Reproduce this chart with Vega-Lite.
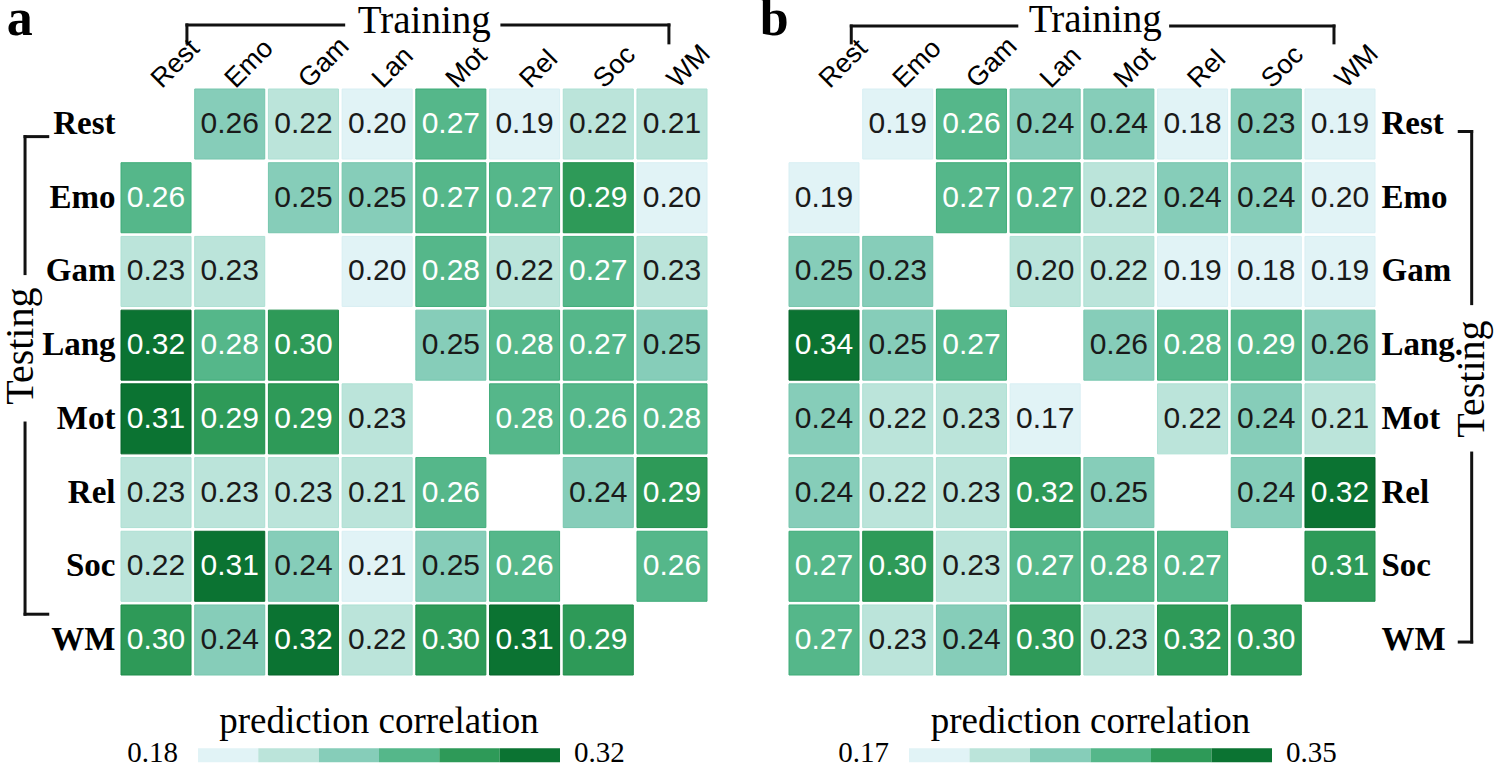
{
  "$schema": "https://vega.github.io/schema/vega-lite/v6.json",
  "background": "white",
  "padding": {"left": 1, "top": -8, "right": 5, "bottom": 0},
  "config": {
    "view": {"stroke": null},
    "axis": {"domain": false, "ticks": false, "grid": false, "title": null}
  },
  "datasets": {
    "a": [
      {"test": "Rest", "train": "Emo", "r": 0.26, "lvl": 3},
      {"test": "Rest", "train": "Gam", "r": 0.22, "lvl": 2},
      {"test": "Rest", "train": "Lan", "r": 0.20, "lvl": 1},
      {"test": "Rest", "train": "Mot", "r": 0.27, "lvl": 4},
      {"test": "Rest", "train": "Rel", "r": 0.19, "lvl": 1},
      {"test": "Rest", "train": "Soc", "r": 0.22, "lvl": 2},
      {"test": "Rest", "train": "WM", "r": 0.21, "lvl": 2},
      {"test": "Emo", "train": "Rest", "r": 0.26, "lvl": 4},
      {"test": "Emo", "train": "Gam", "r": 0.25, "lvl": 3},
      {"test": "Emo", "train": "Lan", "r": 0.25, "lvl": 3},
      {"test": "Emo", "train": "Mot", "r": 0.27, "lvl": 4},
      {"test": "Emo", "train": "Rel", "r": 0.27, "lvl": 4},
      {"test": "Emo", "train": "Soc", "r": 0.29, "lvl": 5},
      {"test": "Emo", "train": "WM", "r": 0.20, "lvl": 1},
      {"test": "Gam", "train": "Rest", "r": 0.23, "lvl": 2},
      {"test": "Gam", "train": "Emo", "r": 0.23, "lvl": 2},
      {"test": "Gam", "train": "Lan", "r": 0.20, "lvl": 1},
      {"test": "Gam", "train": "Mot", "r": 0.28, "lvl": 4},
      {"test": "Gam", "train": "Rel", "r": 0.22, "lvl": 2},
      {"test": "Gam", "train": "Soc", "r": 0.27, "lvl": 4},
      {"test": "Gam", "train": "WM", "r": 0.23, "lvl": 2},
      {"test": "Lang", "train": "Rest", "r": 0.32, "lvl": 6},
      {"test": "Lang", "train": "Emo", "r": 0.28, "lvl": 4},
      {"test": "Lang", "train": "Gam", "r": 0.30, "lvl": 5},
      {"test": "Lang", "train": "Mot", "r": 0.25, "lvl": 3},
      {"test": "Lang", "train": "Rel", "r": 0.28, "lvl": 4},
      {"test": "Lang", "train": "Soc", "r": 0.27, "lvl": 4},
      {"test": "Lang", "train": "WM", "r": 0.25, "lvl": 3},
      {"test": "Mot", "train": "Rest", "r": 0.31, "lvl": 6},
      {"test": "Mot", "train": "Emo", "r": 0.29, "lvl": 5},
      {"test": "Mot", "train": "Gam", "r": 0.29, "lvl": 5},
      {"test": "Mot", "train": "Lan", "r": 0.23, "lvl": 2},
      {"test": "Mot", "train": "Rel", "r": 0.28, "lvl": 4},
      {"test": "Mot", "train": "Soc", "r": 0.26, "lvl": 4},
      {"test": "Mot", "train": "WM", "r": 0.28, "lvl": 4},
      {"test": "Rel", "train": "Rest", "r": 0.23, "lvl": 2},
      {"test": "Rel", "train": "Emo", "r": 0.23, "lvl": 2},
      {"test": "Rel", "train": "Gam", "r": 0.23, "lvl": 2},
      {"test": "Rel", "train": "Lan", "r": 0.21, "lvl": 2},
      {"test": "Rel", "train": "Mot", "r": 0.26, "lvl": 4},
      {"test": "Rel", "train": "Soc", "r": 0.24, "lvl": 3},
      {"test": "Rel", "train": "WM", "r": 0.29, "lvl": 5},
      {"test": "Soc", "train": "Rest", "r": 0.22, "lvl": 2},
      {"test": "Soc", "train": "Emo", "r": 0.31, "lvl": 6},
      {"test": "Soc", "train": "Gam", "r": 0.24, "lvl": 3},
      {"test": "Soc", "train": "Lan", "r": 0.21, "lvl": 1},
      {"test": "Soc", "train": "Mot", "r": 0.25, "lvl": 3},
      {"test": "Soc", "train": "Rel", "r": 0.26, "lvl": 4},
      {"test": "Soc", "train": "WM", "r": 0.26, "lvl": 4},
      {"test": "WM", "train": "Rest", "r": 0.30, "lvl": 5},
      {"test": "WM", "train": "Emo", "r": 0.24, "lvl": 3},
      {"test": "WM", "train": "Gam", "r": 0.32, "lvl": 6},
      {"test": "WM", "train": "Lan", "r": 0.22, "lvl": 2},
      {"test": "WM", "train": "Mot", "r": 0.30, "lvl": 5},
      {"test": "WM", "train": "Rel", "r": 0.31, "lvl": 6},
      {"test": "WM", "train": "Soc", "r": 0.29, "lvl": 5}
    ],
    "b": [
      {"test": "Rest", "train": "Emo", "r": 0.19, "lvl": 1},
      {"test": "Rest", "train": "Gam", "r": 0.26, "lvl": 4},
      {"test": "Rest", "train": "Lan", "r": 0.24, "lvl": 3},
      {"test": "Rest", "train": "Mot", "r": 0.24, "lvl": 3},
      {"test": "Rest", "train": "Rel", "r": 0.18, "lvl": 1},
      {"test": "Rest", "train": "Soc", "r": 0.23, "lvl": 3},
      {"test": "Rest", "train": "WM", "r": 0.19, "lvl": 1},
      {"test": "Emo", "train": "Rest", "r": 0.19, "lvl": 1},
      {"test": "Emo", "train": "Gam", "r": 0.27, "lvl": 4},
      {"test": "Emo", "train": "Lan", "r": 0.27, "lvl": 4},
      {"test": "Emo", "train": "Mot", "r": 0.22, "lvl": 2},
      {"test": "Emo", "train": "Rel", "r": 0.24, "lvl": 3},
      {"test": "Emo", "train": "Soc", "r": 0.24, "lvl": 3},
      {"test": "Emo", "train": "WM", "r": 0.20, "lvl": 1},
      {"test": "Gam", "train": "Rest", "r": 0.25, "lvl": 3},
      {"test": "Gam", "train": "Emo", "r": 0.23, "lvl": 3},
      {"test": "Gam", "train": "Lan", "r": 0.20, "lvl": 2},
      {"test": "Gam", "train": "Mot", "r": 0.22, "lvl": 2},
      {"test": "Gam", "train": "Rel", "r": 0.19, "lvl": 1},
      {"test": "Gam", "train": "Soc", "r": 0.18, "lvl": 1},
      {"test": "Gam", "train": "WM", "r": 0.19, "lvl": 1},
      {"test": "Lang.", "train": "Rest", "r": 0.34, "lvl": 6},
      {"test": "Lang.", "train": "Emo", "r": 0.25, "lvl": 3},
      {"test": "Lang.", "train": "Gam", "r": 0.27, "lvl": 4},
      {"test": "Lang.", "train": "Mot", "r": 0.26, "lvl": 3},
      {"test": "Lang.", "train": "Rel", "r": 0.28, "lvl": 4},
      {"test": "Lang.", "train": "Soc", "r": 0.29, "lvl": 4},
      {"test": "Lang.", "train": "WM", "r": 0.26, "lvl": 3},
      {"test": "Mot", "train": "Rest", "r": 0.24, "lvl": 3},
      {"test": "Mot", "train": "Emo", "r": 0.22, "lvl": 2},
      {"test": "Mot", "train": "Gam", "r": 0.23, "lvl": 2},
      {"test": "Mot", "train": "Lan", "r": 0.17, "lvl": 1},
      {"test": "Mot", "train": "Rel", "r": 0.22, "lvl": 2},
      {"test": "Mot", "train": "Soc", "r": 0.24, "lvl": 3},
      {"test": "Mot", "train": "WM", "r": 0.21, "lvl": 2},
      {"test": "Rel", "train": "Rest", "r": 0.24, "lvl": 3},
      {"test": "Rel", "train": "Emo", "r": 0.22, "lvl": 2},
      {"test": "Rel", "train": "Gam", "r": 0.23, "lvl": 2},
      {"test": "Rel", "train": "Lan", "r": 0.32, "lvl": 5},
      {"test": "Rel", "train": "Mot", "r": 0.25, "lvl": 3},
      {"test": "Rel", "train": "Soc", "r": 0.24, "lvl": 3},
      {"test": "Rel", "train": "WM", "r": 0.32, "lvl": 6},
      {"test": "Soc", "train": "Rest", "r": 0.27, "lvl": 4},
      {"test": "Soc", "train": "Emo", "r": 0.30, "lvl": 5},
      {"test": "Soc", "train": "Gam", "r": 0.23, "lvl": 2},
      {"test": "Soc", "train": "Lan", "r": 0.27, "lvl": 4},
      {"test": "Soc", "train": "Mot", "r": 0.28, "lvl": 4},
      {"test": "Soc", "train": "Rel", "r": 0.27, "lvl": 4},
      {"test": "Soc", "train": "WM", "r": 0.31, "lvl": 5},
      {"test": "WM", "train": "Rest", "r": 0.27, "lvl": 4},
      {"test": "WM", "train": "Emo", "r": 0.23, "lvl": 2},
      {"test": "WM", "train": "Gam", "r": 0.24, "lvl": 3},
      {"test": "WM", "train": "Lan", "r": 0.30, "lvl": 5},
      {"test": "WM", "train": "Mot", "r": 0.23, "lvl": 2},
      {"test": "WM", "train": "Rel", "r": 0.32, "lvl": 5},
      {"test": "WM", "train": "Soc", "r": 0.30, "lvl": 5}
    ],
    "legA": [
      {"lo": 0.18, "hi": 0.2033, "lvl": 1},
      {"lo": 0.2033, "hi": 0.2267, "lvl": 2},
      {"lo": 0.2267, "hi": 0.25, "lvl": 3},
      {"lo": 0.25, "hi": 0.2733, "lvl": 4},
      {"lo": 0.2733, "hi": 0.2967, "lvl": 5},
      {"lo": 0.2967, "hi": 0.32, "lvl": 6}
    ],
    "legB": [
      {"lo": 0.17, "hi": 0.20, "lvl": 1},
      {"lo": 0.20, "hi": 0.23, "lvl": 2},
      {"lo": 0.23, "hi": 0.26, "lvl": 3},
      {"lo": 0.26, "hi": 0.29, "lvl": 4},
      {"lo": 0.29, "hi": 0.32, "lvl": 5},
      {"lo": 0.32, "hi": 0.35, "lvl": 6}
    ]
  },
  "bounds": "flush",
  "spacing": 82,
  "hconcat": [
    {
      "width": 586,
      "height": 586,
      "resolve": {"scale": {"x": "independent", "y": "independent"}},
      "layer": [
        {
          "data": {"name": "a"},
          "encoding": {
            "x": {"field": "train", "type": "nominal", "scale": {"domain": ["Rest", "Emo", "Gam", "Lan", "Mot", "Rel", "Soc", "WM"], "paddingInner": 0.05, "paddingOuter": 0},
              "axis": {"orient": "top", "labelAngle": -45, "labelAlign": "left", "labelBaseline": "middle", "labelFont": "Liberation Sans", "labelFontSize": 27, "labelColor": "#000000", "labelPadding": 6}},
            "y": {"field": "test", "type": "nominal", "scale": {"domain": ["Rest", "Emo", "Gam", "Lang", "Mot", "Rel", "Soc", "WM"], "paddingInner": 0.05, "paddingOuter": 0},
              "axis": {"orient": "left", "labelFont": "Liberation Serif", "labelFontWeight": "bold", "labelFontSize": 33, "labelColor": "#000000", "labelPadding": 6}}
          },
          "layer": [
            {"mark": {"type": "rect", "strokeWidth": 1},
             "encoding": {
               "color": {"field": "lvl", "type": "ordinal", "scale": {"domain": [1, 2, 3, 4, 5, 6], "range": ["#e1f3f6", "#bbe4da", "#86cdb9", "#55b78a", "#2e9a58", "#0b7332"]}, "legend": null},
               "stroke": {"field": "lvl", "type": "ordinal", "scale": {"domain": [1, 2, 3, 4, 5, 6], "range": ["#d8eff3", "#ade0d3", "#76c6ad", "#3fac79", "#1f8d4a", "#06652a"]}, "legend": null}
             }},
            {"mark": {"type": "text", "font": "Liberation Sans", "fontSize": 30}, "encoding": {"text": {"field": "r", "format": ".2f"}, "color": {"condition": {"test": "datum.lvl >= 4", "value": "#ffffff"}, "value": "#1a1a1a"}}}
          ]
        },
        {
          "data": {"values": [
            {"x1": 0.90, "y1": -0.63, "x2": 0.90, "y2": -0.875},
            {"x1": 0.90, "y1": -0.875, "x2": 3.04, "y2": -0.875},
            {"x1": 5.20, "y1": -0.875, "x2": 7.48, "y2": -0.875},
            {"x1": 7.48, "y1": -0.875, "x2": 7.48, "y2": -0.63},
            {"x1": -1.0, "y1": 0.65, "x2": -1.31, "y2": 0.65},
            {"x1": -1.31, "y1": 0.65, "x2": -1.31, "y2": 2.52},
            {"x1": -1.31, "y1": 4.56, "x2": -1.31, "y2": 7.17},
            {"x1": -1.31, "y1": 7.17, "x2": -1.0, "y2": 7.17}
          ]},
          "mark": {"type": "rule", "strokeWidth": 3, "color": "#111111", "strokeCap": "square"},
          "encoding": {
            "x": {"field": "x1", "type": "quantitative", "scale": {"domain": [0, 8], "nice": false, "zero": false}, "axis": null},
            "x2": {"field": "x2"},
            "y": {"field": "y1", "type": "quantitative", "scale": {"domain": [0, 8], "nice": false, "zero": false, "reverse": true}, "axis": null},
            "y2": {"field": "y2"}
          }
        },
        {
          "data": {"values": [{"t": "Training", "x": 4.14, "y": -0.77}]},
          "mark": {"type": "text", "font": "Liberation Serif", "fontSize": 39, "align": "center", "baseline": "alphabetic", "color": "#000000"},
          "encoding": {
            "x": {"field": "x", "type": "quantitative", "scale": {"domain": [0, 8], "nice": false, "zero": false}, "axis": null},
            "y": {"field": "y", "type": "quantitative", "scale": {"domain": [0, 8], "nice": false, "zero": false, "reverse": true}, "axis": null},
            "text": {"field": "t"}
          }
        },
        {
          "data": {"values": [{"t": "Testing", "x": -1.365, "y": 3.51}]},
          "mark": {"type": "text", "font": "Liberation Serif", "fontSize": 40, "align": "center", "baseline": "middle", "angle": 270, "color": "#000000"},
          "encoding": {
            "x": {"field": "x", "type": "quantitative", "scale": {"domain": [0, 8], "nice": false, "zero": false}, "axis": null},
            "y": {"field": "y", "type": "quantitative", "scale": {"domain": [0, 8], "nice": false, "zero": false, "reverse": true}, "axis": null},
            "text": {"field": "t"}
          }
        },
        {
          "data": {"values": [{"t": "a", "x": -1.56, "y": -0.74}]},
          "mark": {"type": "text", "font": "Liberation Serif", "fontWeight": "bold", "fontSize": 52, "align": "left", "baseline": "alphabetic", "color": "#000000"},
          "encoding": {
            "x": {"field": "x", "type": "quantitative", "scale": {"domain": [0, 8], "nice": false, "zero": false}, "axis": null},
            "y": {"field": "y", "type": "quantitative", "scale": {"domain": [0, 8], "nice": false, "zero": false, "reverse": true}, "axis": null},
            "text": {"field": "t"}
          }
        },
        {
          "data": {"name": "legA"},
          "mark": {"type": "rect"},
          "encoding": {
            "x": {"field": "lo", "type": "quantitative", "scale": {"domain": [0.15022, 0.37685], "nice": false, "zero": false}, "axis": null},
            "x2": {"field": "hi"},
            "y": {"datum": 9.0, "type": "quantitative", "scale": {"domain": [0, 8], "nice": false, "zero": false, "reverse": true}, "axis": null},
            "y2": {"datum": 9.19},
            "color": {"field": "lvl", "type": "ordinal", "scale": {"domain": [1, 2, 3, 4, 5, 6], "range": ["#e1f3f6", "#bbe4da", "#86cdb9", "#55b78a", "#2e9a58", "#0b7332"]}, "legend": null}
          }
        },
        {
          "data": {"values": [{"v": 0.18, "t": "0.18"}]},
          "mark": {"type": "text", "align": "right", "dx": -20, "baseline": "alphabetic", "font": "Liberation Serif", "fontSize": 29, "color": "#000000"},
          "encoding": {
            "x": {"field": "v", "type": "quantitative", "scale": {"domain": [0.15022, 0.37685], "nice": false, "zero": false}, "axis": null},
            "y": {"datum": 9.19, "type": "quantitative", "scale": {"domain": [0, 8], "nice": false, "zero": false, "reverse": true}, "axis": null},
            "text": {"field": "t"}
          }
        },
        {
          "data": {"values": [{"v": 0.32, "t": "0.32"}]},
          "mark": {"type": "text", "align": "left", "dx": 14, "baseline": "alphabetic", "font": "Liberation Serif", "fontSize": 29, "color": "#000000"},
          "encoding": {
            "x": {"field": "v", "type": "quantitative", "scale": {"domain": [0.15022, 0.37685], "nice": false, "zero": false}, "axis": null},
            "y": {"datum": 9.19, "type": "quantitative", "scale": {"domain": [0, 8], "nice": false, "zero": false, "reverse": true}, "axis": null},
            "text": {"field": "t"}
          }
        },
        {
          "data": {"values": [{"v": 0.25, "t": "prediction correlation"}]},
          "mark": {"type": "text", "align": "center", "baseline": "alphabetic", "font": "Liberation Serif", "fontSize": 37, "color": "#000000"},
          "encoding": {
            "x": {"field": "v", "type": "quantitative", "scale": {"domain": [0.15022, 0.37685], "nice": false, "zero": false}, "axis": null},
            "y": {"datum": 8.79, "type": "quantitative", "scale": {"domain": [0, 8], "nice": false, "zero": false, "reverse": true}, "axis": null},
            "text": {"field": "t"}
          }
        }
      ]
    },
    {
      "width": 586,
      "height": 586,
      "resolve": {"scale": {"x": "independent", "y": "independent"}},
      "layer": [
        {
          "data": {"name": "b"},
          "encoding": {
            "x": {"field": "train", "type": "nominal", "scale": {"domain": ["Rest", "Emo", "Gam", "Lan", "Mot", "Rel", "Soc", "WM"], "paddingInner": 0.05, "paddingOuter": 0},
              "axis": {"orient": "top", "labelAngle": -45, "labelAlign": "left", "labelBaseline": "middle", "labelFont": "Liberation Sans", "labelFontSize": 27, "labelColor": "#000000", "labelPadding": 6}},
            "y": {"field": "test", "type": "nominal", "scale": {"domain": ["Rest", "Emo", "Gam", "Lang.", "Mot", "Rel", "Soc", "WM"], "paddingInner": 0.05, "paddingOuter": 0},
              "axis": {"orient": "right", "labelAlign": "left", "labelFont": "Liberation Serif", "labelFontWeight": "bold", "labelFontSize": 33, "labelColor": "#000000", "labelPadding": 6}}
          },
          "layer": [
            {"mark": {"type": "rect", "strokeWidth": 1},
             "encoding": {
               "color": {"field": "lvl", "type": "ordinal", "scale": {"domain": [1, 2, 3, 4, 5, 6], "range": ["#e1f3f6", "#bbe4da", "#86cdb9", "#55b78a", "#2e9a58", "#0b7332"]}, "legend": null},
               "stroke": {"field": "lvl", "type": "ordinal", "scale": {"domain": [1, 2, 3, 4, 5, 6], "range": ["#d8eff3", "#ade0d3", "#76c6ad", "#3fac79", "#1f8d4a", "#06652a"]}, "legend": null}
             }},
            {"mark": {"type": "text", "font": "Liberation Sans", "fontSize": 30}, "encoding": {"text": {"field": "r", "format": ".2f"}, "color": {"condition": {"test": "datum.lvl >= 4", "value": "#ffffff"}, "value": "#1a1a1a"}}}
          ]
        },
        {
          "data": {"values": [
            {"x1": 0.85, "y1": -0.63, "x2": 0.85, "y2": -0.86},
            {"x1": 0.85, "y1": -0.86, "x2": 3.11, "y2": -0.86},
            {"x1": 5.21, "y1": -0.86, "x2": 7.44, "y2": -0.86},
            {"x1": 7.44, "y1": -0.86, "x2": 7.44, "y2": -0.63},
            {"x1": 9.15, "y1": 0.58, "x2": 9.32, "y2": 0.58},
            {"x1": 9.32, "y1": 0.58, "x2": 9.32, "y2": 2.93},
            {"x1": 9.32, "y1": 4.97, "x2": 9.32, "y2": 7.55},
            {"x1": 9.32, "y1": 7.55, "x2": 9.15, "y2": 7.55}
          ]},
          "mark": {"type": "rule", "strokeWidth": 3, "color": "#111111", "strokeCap": "square"},
          "encoding": {
            "x": {"field": "x1", "type": "quantitative", "scale": {"domain": [0, 8], "nice": false, "zero": false}, "axis": null},
            "x2": {"field": "x2"},
            "y": {"field": "y1", "type": "quantitative", "scale": {"domain": [0, 8], "nice": false, "zero": false, "reverse": true}, "axis": null},
            "y2": {"field": "y2"}
          }
        },
        {
          "data": {"values": [{"t": "Training", "x": 4.18, "y": -0.78}]},
          "mark": {"type": "text", "font": "Liberation Serif", "fontSize": 39, "align": "center", "baseline": "alphabetic", "color": "#000000"},
          "encoding": {
            "x": {"field": "x", "type": "quantitative", "scale": {"domain": [0, 8], "nice": false, "zero": false}, "axis": null},
            "y": {"field": "y", "type": "quantitative", "scale": {"domain": [0, 8], "nice": false, "zero": false, "reverse": true}, "axis": null},
            "text": {"field": "t"}
          }
        },
        {
          "data": {"values": [{"t": "Testing", "x": 9.32, "y": 3.96}]},
          "mark": {"type": "text", "font": "Liberation Serif", "fontSize": 40, "align": "center", "baseline": "middle", "angle": 270, "color": "#000000"},
          "encoding": {
            "x": {"field": "x", "type": "quantitative", "scale": {"domain": [0, 8], "nice": false, "zero": false}, "axis": null},
            "y": {"field": "y", "type": "quantitative", "scale": {"domain": [0, 8], "nice": false, "zero": false, "reverse": true}, "axis": null},
            "text": {"field": "t"}
          }
        },
        {
          "data": {"values": [{"t": "b", "x": -0.40, "y": -0.74}]},
          "mark": {"type": "text", "font": "Liberation Serif", "fontWeight": "bold", "fontSize": 52, "align": "left", "baseline": "alphabetic", "color": "#000000"},
          "encoding": {
            "x": {"field": "x", "type": "quantitative", "scale": {"domain": [0, 8], "nice": false, "zero": false}, "axis": null},
            "y": {"field": "y", "type": "quantitative", "scale": {"domain": [0, 8], "nice": false, "zero": false, "reverse": true}, "axis": null},
            "text": {"field": "t"}
          }
        },
        {
          "data": {"name": "legB"},
          "mark": {"type": "rect"},
          "encoding": {
            "x": {"field": "lo", "type": "quantitative", "scale": {"domain": [0.1105, 0.40107], "nice": false, "zero": false}, "axis": null},
            "x2": {"field": "hi"},
            "y": {"datum": 9.0, "type": "quantitative", "scale": {"domain": [0, 8], "nice": false, "zero": false, "reverse": true}, "axis": null},
            "y2": {"datum": 9.19},
            "color": {"field": "lvl", "type": "ordinal", "scale": {"domain": [1, 2, 3, 4, 5, 6], "range": ["#e1f3f6", "#bbe4da", "#86cdb9", "#55b78a", "#2e9a58", "#0b7332"]}, "legend": null}
          }
        },
        {
          "data": {"values": [{"v": 0.17, "t": "0.17"}]},
          "mark": {"type": "text", "align": "right", "dx": -20, "baseline": "alphabetic", "font": "Liberation Serif", "fontSize": 29, "color": "#000000"},
          "encoding": {
            "x": {"field": "v", "type": "quantitative", "scale": {"domain": [0.1105, 0.40107], "nice": false, "zero": false}, "axis": null},
            "y": {"datum": 9.19, "type": "quantitative", "scale": {"domain": [0, 8], "nice": false, "zero": false, "reverse": true}, "axis": null},
            "text": {"field": "t"}
          }
        },
        {
          "data": {"values": [{"v": 0.35, "t": "0.35"}]},
          "mark": {"type": "text", "align": "left", "dx": 14, "baseline": "alphabetic", "font": "Liberation Serif", "fontSize": 29, "color": "#000000"},
          "encoding": {
            "x": {"field": "v", "type": "quantitative", "scale": {"domain": [0.1105, 0.40107], "nice": false, "zero": false}, "axis": null},
            "y": {"datum": 9.19, "type": "quantitative", "scale": {"domain": [0, 8], "nice": false, "zero": false, "reverse": true}, "axis": null},
            "text": {"field": "t"}
          }
        },
        {
          "data": {"values": [{"v": 0.26, "t": "prediction correlation"}]},
          "mark": {"type": "text", "align": "center", "baseline": "alphabetic", "font": "Liberation Serif", "fontSize": 37, "color": "#000000"},
          "encoding": {
            "x": {"field": "v", "type": "quantitative", "scale": {"domain": [0.1105, 0.40107], "nice": false, "zero": false}, "axis": null},
            "y": {"datum": 8.79, "type": "quantitative", "scale": {"domain": [0, 8], "nice": false, "zero": false, "reverse": true}, "axis": null},
            "text": {"field": "t"}
          }
        }
      ]
    }
  ]
}
